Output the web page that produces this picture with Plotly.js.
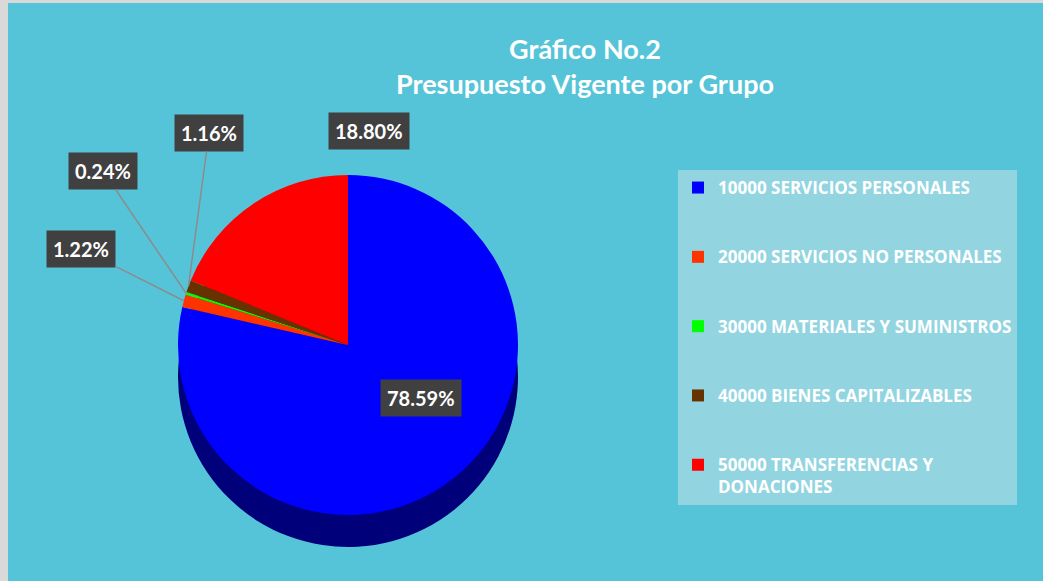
<!DOCTYPE html>
<html>
<head>
<meta charset="utf-8">
<script src="https://cdn.plot.ly/plotly-3.0.1.min.js"></script>
<style>
  html, body { margin: 0; padding: 0; background: #d9d9d9; width: 1043px; height: 581px; overflow: hidden; }
  #chart { position: absolute; left: 8px; top: 3px; width: 1035px; height: 578px; }
</style>
</head>
<body>
<div id="chart"></div>
<script>
// ---- data ----
const categories = [
  '10000 SERVICIOS PERSONALES',
  '20000 SERVICIOS NO PERSONALES',
  '30000 MATERIALES Y SUMINISTROS',
  '40000 BIENES CAPITALIZABLES',
  '50000 TRANSFERENCIAS Y<br>DONACIONES'
];
const values = [78.59, 1.22, 0.24, 1.16, 18.80];
const titleText = 'Gráfico No.2<br>Presupuesto Vigente por Grupo';

// ---- styles ----
const colors = ['#0000FF', '#FF3300', '#00FF00', '#663300', '#FF0000'];
const sideColors = ['#00007A', '#8A1C00', '#008C00', '#331900', '#8A0000'];

const W = 1035, H = 578;
const cx = 340, cy = 342, r = 170, depth = 32;   // pie geometry in pixels
const dom = (dy) => ({
  x: [(cx - r) / W, (cx + r) / W],
  y: [1 - (cy + r + dy) / H, 1 - (cy - r + dy) / H]
});

const legendLabels = categories.map((c, i) => i < categories.length - 1 ? c + '<br> <br> ' : c);

const common = {
  type: 'pie',
  values: values,
  labels: legendLabels,
  sort: false,
  direction: 'clockwise',
  rotation: 0,
  textinfo: 'none',
  hoverinfo: 'label+text',
  text: values.map(v => v.toFixed(2) + '%')
};

const sideTrace = Object.assign({}, common, {
  domain: dom(depth),
  marker: { colors: sideColors, line: { width: 0 } },
  showlegend: false
});
const topTrace = Object.assign({}, common, {
  domain: dom(0),
  marker: { colors: colors, line: { width: 0 } },
  showlegend: true
});

// label annotations
const total = values.reduce((a, b) => a + b, 0);
let cum = 0;
const mids = values.map(v => { const m = (cum + v / 2) / total * 2 * Math.PI; cum += v; return m; });
const labelFont = { family: 'Lato, sans-serif', size: 20, color: '#FFFFFF', weight: 700 };
const boxPos = [ [413, 395], [73, 246], [95, 168], [201, 130], [361, 128] ]; // label box centres (px)
const leader = [false, true, true, true, false];
const annotations = values.map((v, i) => {
  const base = {
    text: v.toFixed(2) + '%',
    font: labelFont,
    bgcolor: '#404040',
    borderpad: 6,
    xref: 'paper', yref: 'paper'
  };
  if (leader[i]) {
    const px = cx + r * Math.sin(mids[i]);
    const py = cy - r * Math.cos(mids[i]);
    return Object.assign(base, {
      x: px / W, y: 1 - py / H,
      showarrow: true, arrowhead: 0, arrowwidth: 1.5, arrowcolor: '#8C8C8C', standoff: 0,
      ax: boxPos[i][0] - px, ay: boxPos[i][1] - py
    });
  }
  return Object.assign(base, {
    x: boxPos[i][0] / W, y: 1 - boxPos[i][1] / H,
    xanchor: 'center', yanchor: 'middle', showarrow: false
  });
});

const layout = {
  width: W, height: H,
  margin: { l: 0, r: 0, t: 0, b: 0 },
  paper_bgcolor: '#56C4D8',
  plot_bgcolor: '#56C4D8',
  title: {
    text: titleText,
    x: (585 - 8) / W, xanchor: 'center',
    y: 1 - 56 / H, yanchor: 'top', yref: 'container',
    font: { family: 'Lato, sans-serif', size: 27, color: '#FFFFFF', weight: 700 }
  },
  showlegend: true,
  legend: {
    x: (678 - 8) / W, xanchor: 'left',
    y: 1 - (170 - 3) / H, yanchor: 'top',
    bgcolor: '#92D5E1',
    borderwidth: 0,
    valign: 'top',
    traceorder: 'normal',
    font: { family: 'Open Sans, sans-serif', size: 17, color: '#FFFFFF', weight: 700 }
  },
  annotations: annotations
};

Plotly.newPlot('chart', [sideTrace, topTrace], layout, { displayModeBar: false, staticPlot: true });
</script>
</body>
</html>
